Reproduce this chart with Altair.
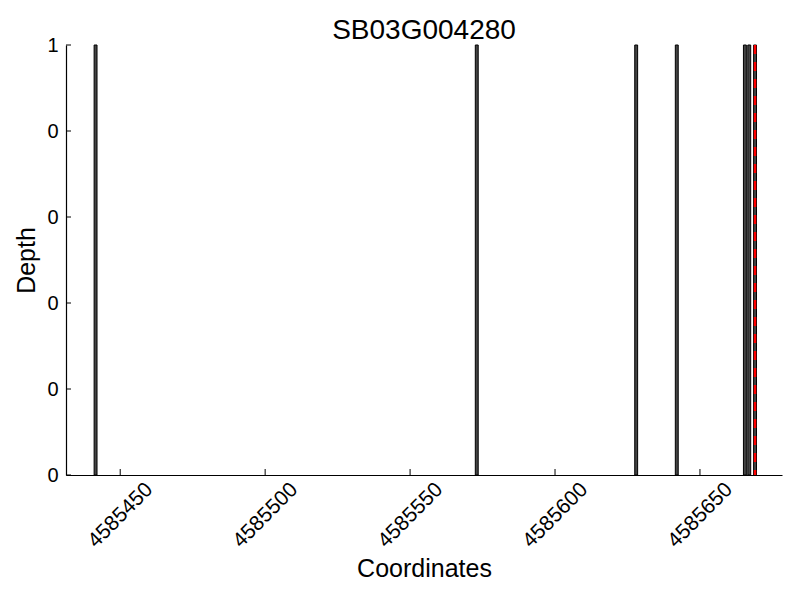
import altair as alt
import pandas as pd

# data
bar_centers = [4585441.5, 4585573, 4585628, 4585642, 4585665.5, 4585667, 4585669]
bar_depths = [1, 1, 1, 1, 1, 1, 1]
marker_pos = [4585669]
x_ticks = [4585450, 4585500, 4585550, 4585600, 4585650]
y_ticks = [0, 0.2, 0.4, 0.6, 0.8, 1.0]
x_domain = [4585431.3, 4585678.3]
title_text = "SB03G004280"

FONT = "Liberation Sans"
W, H = 716, 430

bars = pd.DataFrame({
    "start": [c - 0.5 for c in bar_centers],
    "end": [c + 0.5 for c in bar_centers],
    "depth": bar_depths,
})

xs = alt.Scale(domain=x_domain, nice=False, zero=False)
ys = alt.Scale(domain=[0, 1], nice=False)

x_axis = alt.Axis(title="Coordinates", values=x_ticks, format="d", labelAngle=-45,
                  labelAlign="center", labelBaseline="middle", labelPadding=40,
                  ticks=False, grid=False, domainColor="black", domainWidth=1.2,
                  labelFontSize=21, titleFontSize=25, labelColor="black",
                  titleColor="black", titleFontWeight="normal", labelFont=FONT,
                  titleFont=FONT, titlePadding=6, labelFlush=False)
y_axis = alt.Axis(title="Depth", values=y_ticks, labelExpr="floor(datum.value)",
                  ticks=False, grid=False, domainColor="black", domainWidth=1.2,
                  labelFontSize=20, titleFontSize=25, labelColor="black",
                  titleColor="black", titleFontWeight="normal", labelFont=FONT,
                  titleFont=FONT, labelPadding=8, titlePadding=7)

bar_layer = alt.Chart(bars).mark_rect(fill="#444444", stroke="black", strokeWidth=1).encode(
    x=alt.X("start:Q", scale=xs, axis=x_axis),
    x2="end:Q",
    y=alt.Y("depth:Q", scale=ys, axis=y_axis),
    y2=alt.datum(0),
)

ytick_layer = alt.Chart(pd.DataFrame({"v": y_ticks})).mark_rule(color="black", strokeWidth=1).encode(
    y=alt.Y("v:Q", scale=ys, axis=y_axis),
    x=alt.value(0), x2=alt.value(5),
)
xtick_layer = alt.Chart(pd.DataFrame({"v": x_ticks})).mark_rule(color="black", strokeWidth=1).encode(
    x=alt.X("v:Q", scale=xs, axis=x_axis),
    y=alt.value(H), y2=alt.value(H - 6),
)
marker_layer = alt.Chart(pd.DataFrame({"m": marker_pos})).mark_rule(
    color="red", strokeWidth=2.5, strokeDash=[9, 8]).encode(
    x=alt.X("m:Q", scale=xs, axis=x_axis),
    y=alt.value(0), y2=alt.value(H),
)

chart = alt.layer(bar_layer, ytick_layer, xtick_layer, marker_layer).properties(
    width=W, height=H,
    background="white",
    title=alt.TitleParams(title_text, fontSize=28, font=FONT, fontWeight="normal",
                          color="black", anchor="middle", offset=5, dy=15),
    autosize=alt.AutoSizeParams(type="none"),
    padding={"left": 58, "top": 37, "right": 10, "bottom": 120},
).configure_view(stroke="transparent", strokeWidth=0)

chart.save("out.html", embed_options={"renderer": "svg", "actions": False})
